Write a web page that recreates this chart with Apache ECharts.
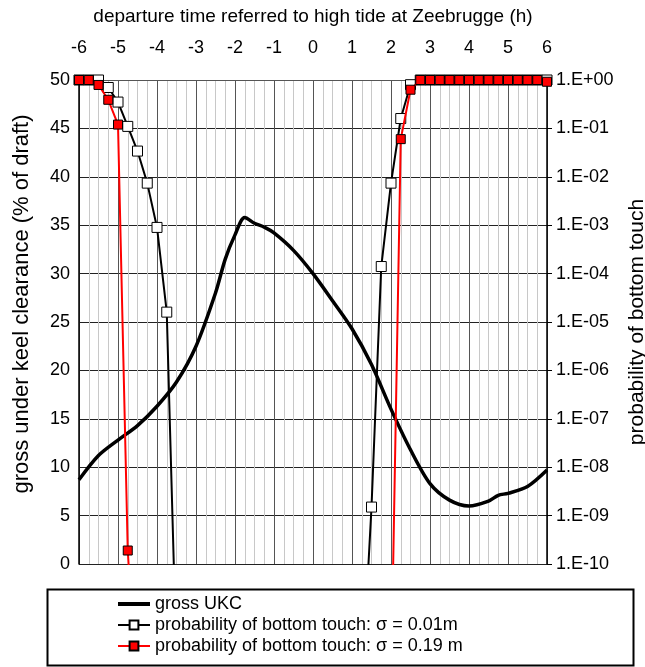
<!DOCTYPE html>
<html>
<head>
<meta charset="utf-8">
<script src="https://cdn.jsdelivr.net/npm/echarts@6/dist/echarts.min.js"></script>
<style>
  html, body { margin: 0; padding: 0; background: #fff; }
  #chart { width: 645px; height: 667px; }
</style>
</head>
<body>
<div id="chart"></div>
<script>
// departure time (h) referred to high tide
const ukcHours  = [-6, -5.5, -5, -4.5, -4, -3.5, -3, -2.5, -2.25, -2, -1.75, -1.5, -1.25, -1, -0.5, 0, 0.5, 1, 1.5, 2, 2.5, 3, 3.5, 4, 4.5, 4.75, 5, 5.5, 6];
const ukcValues = [8.7, 11.2, 12.8, 14.3, 16.3, 18.8, 22.5, 28.0, 31.5, 34.0, 35.8, 35.2, 34.8, 34.2, 32.4, 30.0, 27.2, 24.3, 20.6, 16.0, 11.8, 8.3, 6.6, 6.0, 6.5, 7.1, 7.3, 8.0, 9.7];

// probability of bottom touch, sigma = 0.01 m
const p001Hours  = [-6, -5.75, -5.5, -5.25, -5, -4.75, -4.5, -4.25, -4, -3.75, -3.5, 1.25, 1.5, 1.75, 2, 2.25, 2.5, 2.75, 3, 3.25, 3.5, 3.75, 4, 4.25, 4.5, 4.75, 5, 5.25, 5.5, 5.75, 6];
const p001Values = [1, 1, 1, 0.7, 0.35, 0.11, 0.034, 0.0074, 0.0009, 1.6e-5, 1e-12, 2.5e-13, 1.5e-9, 1.4e-4, 7.4e-3, 0.16, 0.8, 1, 1, 1, 1, 1, 1, 1, 1, 1, 1, 1, 1, 1, 1];

// probability of bottom touch, sigma = 0.19 m
const p019Hours  = [-6, -5.75, -5.5, -5.25, -5, -4.75, -4.5, 2, 2.25, 2.5, 2.75, 3, 3.25, 3.5, 3.75, 4, 4.25, 4.5, 4.75, 5, 5.25, 5.5, 5.75, 6];
const p019Values = [1, 1, 0.79, 0.39, 0.12, 1.9e-10, 1e-13, 3e-13, 0.06, 0.63, 1, 1, 1, 1, 1, 1, 1, 1, 1, 1, 1, 1, 1, 0.92];

const pair = (xs, ys) => xs.map((x, i) => [x, ys[i]]);

const FONT = 'Liberation Sans, Arial, sans-serif';

const chart = echarts.init(document.getElementById('chart'), null, { renderer: 'canvas' });

const expLabel = (v) => {
  const e = Math.round(Math.log10(v));
  return '1.E' + (e < 0 ? '-' : '+') + String(Math.abs(e)).padStart(2, '0');
};

const option = {
  backgroundColor: '#fff',
  animation: false,
  textStyle: { fontFamily: FONT, color: '#000' },
  grid: { left: 79, right: 98, top: 80, bottom: 103, containLabel: false, outerBoundsMode: 'none' },
  xAxis: {
    type: 'value',
    position: 'top',
    min: -6,
    max: 6,
    interval: 1,
    name: 'departure time referred to high tide at Zeebrugge (h)',
    nameLocation: 'middle',
    nameGap: 54,
    nameTextStyle: { fontSize: 19, color: '#000', fontFamily: FONT },
    axisLine: { show: true, onZero: false, lineStyle: { color: '#555', width: 1 } },
    axisTick: { show: false },
    axisLabel: { fontSize: 18, color: '#000', margin: 23, fontFamily: FONT },
    splitLine: { show: true, lineStyle: { color: '#555', width: 1 } },
    minorTick: { show: false, splitNumber: 4 },
    minorSplitLine: { show: true, lineStyle: { color: '#c8c8c8', width: 1 } }
  },
  yAxis: [
    {
      type: 'value',
      position: 'left',
      min: 0,
      max: 50,
      interval: 5,
      name: 'gross under keel clearance (% of draft)',
      nameLocation: 'middle',
      nameRotate: 90,
      nameGap: 46,
      nameTextStyle: { fontSize: 22, color: '#000', fontFamily: FONT, padding: [0, 0, 0, 36] },
      axisLine: { show: true, onZero: false, lineStyle: { color: '#000', width: 1.5 } },
      axisTick: { show: false },
      axisLabel: { fontSize: 18, color: '#000', margin: 9, fontFamily: FONT },
      splitLine: { show: true, lineStyle: { color: '#222', width: 1 } }
    },
    {
      type: 'log',
      logBase: 10,
      position: 'right',
      min: 1e-10,
      max: 1,
      interval: 1,
      name: 'probability of bottom touch',
      nameLocation: 'middle',
      nameRotate: 90,
      nameGap: 80,
      nameTextStyle: { fontSize: 21, color: '#000', fontFamily: FONT },
      axisLine: { show: true, onZero: false, lineStyle: { color: '#000', width: 1.5 } },
      axisTick: { show: true, inside: false, length: 5, lineStyle: { color: '#000' } },
      axisLabel: { fontSize: 18, color: '#000', margin: 9, fontFamily: FONT, formatter: expLabel },
      splitLine: { show: false }
    }
  ],
  legend: {
    orient: 'vertical',
    left: 112,
    top: 590,
    itemWidth: 32,
    itemHeight: 11,
    itemGap: 3,
    textStyle: { fontSize: 18, color: '#000', fontFamily: FONT },
    data: [
      { name: 'gross UKC', icon: 'path://M0,0 H32 V4 H0 Z' },
      'probability of bottom touch: σ = 0.01m',
      'probability of bottom touch: σ = 0.19 m'
    ]
  },
  graphic: [
    {
      type: 'rect',
      left: 45,
      top: 587,
      shape: { width: 586, height: 76 },
      style: { fill: 'none', stroke: '#000', lineWidth: 2 },
      silent: true
    }
  ],
  series: [
    {
      name: 'gross UKC',
      type: 'line',
      yAxisIndex: 0,
      data: pair(ukcHours, ukcValues),
      smooth: 0.3,
      showSymbol: false,
      symbol: 'none',
      lineStyle: { color: '#000', width: 3.5 },
      itemStyle: { color: '#000' },
      z: 2
    },
    {
      name: 'probability of bottom touch: σ = 0.01m',
      type: 'line',
      yAxisIndex: 1,
      data: pair(p001Hours, p001Values),
      symbol: 'rect',
      symbolSize: 10,
      lineStyle: { color: '#000', width: 2 },
      itemStyle: { color: '#fff', borderColor: '#000', borderWidth: 1 },
      z: 3
    },
    {
      name: 'probability of bottom touch: σ = 0.19 m',
      type: 'line',
      yAxisIndex: 1,
      data: pair(p019Hours, p019Values),
      symbol: 'rect',
      symbolSize: 9,
      lineStyle: { color: '#ff0000', width: 2 },
      itemStyle: { color: '#ff0000', borderColor: '#000', borderWidth: 1 },
      z: 4
    }
  ]
};

chart.setOption(option);
window.addEventListener('resize', () => chart.resize());
</script>
</body>
</html>
